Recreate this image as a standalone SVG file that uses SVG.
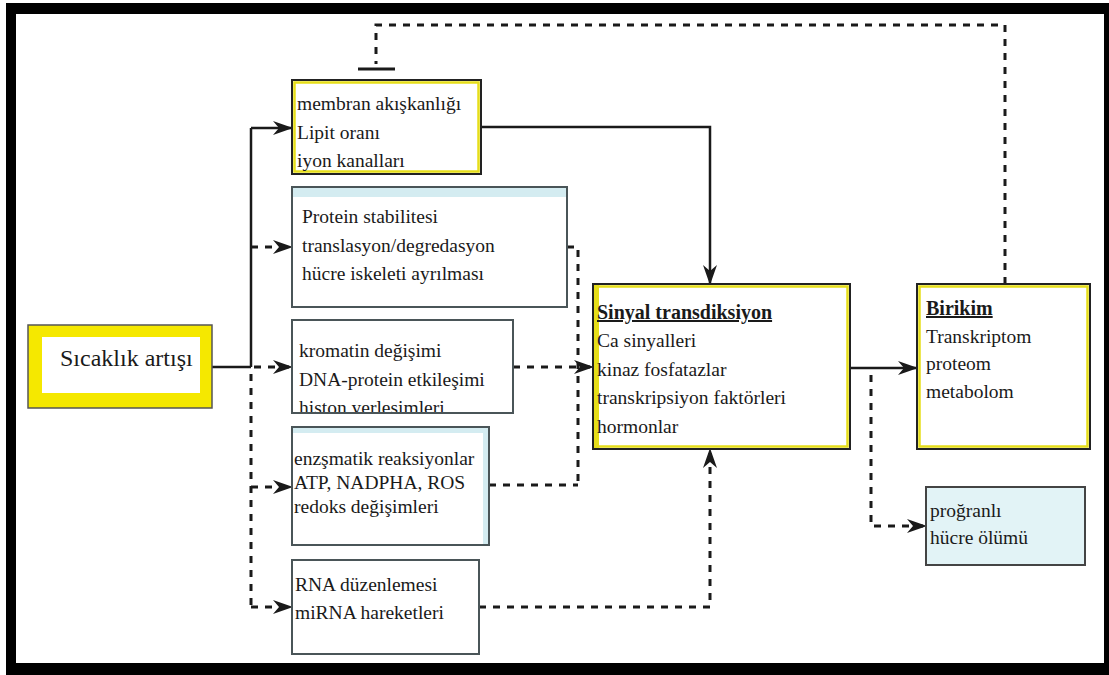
<svg xmlns="http://www.w3.org/2000/svg" width="1109" height="675" viewBox="0 0 1109 675">
<style>
  text { font-family: "Liberation Serif", "Times New Roman", serif; fill: #1a1a1a; }
  .t { font-size: 19.5px; }
  .h { font-size: 20px; font-weight: bold; text-decoration: underline; }
  .solid { fill: none; stroke: #1a1a1a; stroke-width: 2.5; }
  .dash { fill: none; stroke: #1a1a1a; stroke-width: 3; stroke-dasharray: 7 7; }
  .gbox { fill: #ffffff; stroke: #4a5558; stroke-width: 2; }
  .ybox { fill: #ffffff; stroke: #222; stroke-width: 2; }
  .yin { fill: none; stroke: #e6de1a; stroke-width: 2.5; }
  .blue { fill: #d4ecf1; }
</style>
<defs>
  <marker id="arr" markerUnits="userSpaceOnUse" markerWidth="20" markerHeight="14" refX="19" refY="7" orient="auto">
    <path d="M0,0 L20,7 L0,14 L6,7 Z" fill="#1a1a1a"/>
  </marker>
  <clipPath id="cm"><rect x="293" y="81" width="187" height="92"/></clipPath>
  <clipPath id="ck"><rect x="293" y="321" width="219" height="91"/></clipPath>
</defs>
<rect width="1109" height="675" fill="#ffffff"/>
<!-- frame -->
<path d="M6,3 H1109 V675 H6 Z M16,14 V663 H1104 V14 Z" fill="#000" fill-rule="evenodd"/>

<g id="connectors">
  <path class="solid" d="M212,367 H251"/>
  <path class="solid" d="M251,367 V128"/>
  <path class="dash" d="M251,374 V607"/>
  <path class="solid" d="M251,128 H292" marker-end="url(#arr)"/>
  <path class="dash" d="M251,247 H292" marker-end="url(#arr)"/>
  <path class="dash" d="M254,367 H292" marker-end="url(#arr)"/>
  <path class="dash" d="M251,487 H292" marker-end="url(#arr)"/>
  <path class="dash" d="M251,607 H292" marker-end="url(#arr)"/>
  <path class="solid" d="M481,127 H710 V284" marker-end="url(#arr)"/>
  <path class="dash" d="M567,247 H578 V485"/>
  <path class="dash" d="M489,485 H578"/>
  <path class="dash" d="M513,367 H593" marker-end="url(#arr)"/>
  <path class="dash" d="M479,607 H710 V449" marker-end="url(#arr)"/>
  <path class="solid" d="M850,368 H917" marker-end="url(#arr)"/>
  <path class="dash" d="M871,375 V526 H926" marker-end="url(#arr)"/>
  <path class="dash" d="M1005,284 V25 H376 V64"/>
  <path d="M358,69 H395" stroke="#1a1a1a" stroke-width="3" fill="none"/>
</g>

<g id="sicaklik">
  <rect x="28" y="325" width="184" height="83" fill="#f5e800" stroke="#555" stroke-width="1.5"/>
  <rect x="42" y="337" width="158" height="56" fill="#ffffff"/>
  <text x="60" y="366" style="font-size:24px">Sıcaklık artışı</text>
</g>

<g id="membran">
  <rect class="ybox" x="292" y="80" width="189" height="94"/>
  <rect class="yin" x="294.5" y="82.5" width="184" height="89"/>
  <g clip-path="url(#cm)">
    <text class="t" x="297" y="110">membran akışkanlığı</text>
    <text class="t" x="297" y="139">Lipit oranı</text>
    <text class="t" x="297" y="167">iyon kanalları</text>
  </g>
</g>

<g id="protein">
  <rect class="gbox" x="292" y="187" width="275" height="120"/>
  <rect class="blue" x="293" y="188" width="273" height="9"/>
  <text class="t" x="302" y="223">Protein stabilitesi</text>
  <text class="t" x="302" y="252">translasyon/degredasyon</text>
  <text class="t" x="302" y="280">hücre iskeleti ayrılması</text>
</g>

<g id="kromatin">
  <rect class="gbox" x="292" y="320" width="221" height="93"/>
  <g clip-path="url(#ck)">
    <text class="t" x="299" y="357">kromatin değişimi</text>
    <text class="t" x="299" y="386">DNA-protein etkileşimi</text>
    <text class="t" x="299" y="414">histon yerleşimleri</text>
  </g>
</g>

<g id="enzim">
  <rect class="gbox" x="292" y="427" width="197" height="118"/>
  <rect class="blue" x="293" y="428" width="195" height="5"/>
  <rect class="blue" x="483" y="428" width="5" height="116"/>
  <text class="t" x="294" y="465">enzşmatik reaksiyonlar</text>
  <text class="t" x="294" y="489">ATP, NADPHA, ROS</text>
  <text class="t" x="294" y="513">redoks değişimleri</text>
</g>

<g id="rna">
  <rect class="gbox" x="292" y="560" width="187" height="94"/>
  <text class="t" x="295" y="591">RNA düzenlemesi</text>
  <text class="t" x="295" y="619">miRNA hareketleri</text>
</g>

<g id="sinyal">
  <rect class="ybox" x="593" y="284" width="257" height="165"/>
  <rect class="yin" x="595.5" y="286.5" width="252" height="160"/>
  <rect x="594" y="285" width="5" height="163" fill="#e6de1a"/>
  <text class="h" x="597" y="319">Sinyal transdiksiyon</text>
  <text class="t" x="597" y="347">Ca sinyalleri</text>
  <text class="t" x="597" y="376">kinaz fosfatazlar</text>
  <text class="t" x="597" y="404">transkripsiyon faktörleri</text>
  <text class="t" x="597" y="433">hormonlar</text>
</g>

<g id="birikim">
  <rect class="ybox" x="917" y="284" width="173" height="165"/>
  <rect class="yin" x="919.5" y="286.5" width="168" height="160"/>
  <text class="h" x="926" y="315">Birikim</text>
  <text class="t" x="926" y="343">Transkriptom</text>
  <text class="t" x="926" y="370">proteom</text>
  <text class="t" x="926" y="398">metabolom</text>
</g>

<g id="programli">
  <rect x="926" y="487" width="159" height="78" fill="#e2f3f6" stroke="#444" stroke-width="2"/>
  <text class="t" x="930" y="517">proğranlı</text>
  <text class="t" x="930" y="544">hücre ölümü</text>
</g>
</svg>
